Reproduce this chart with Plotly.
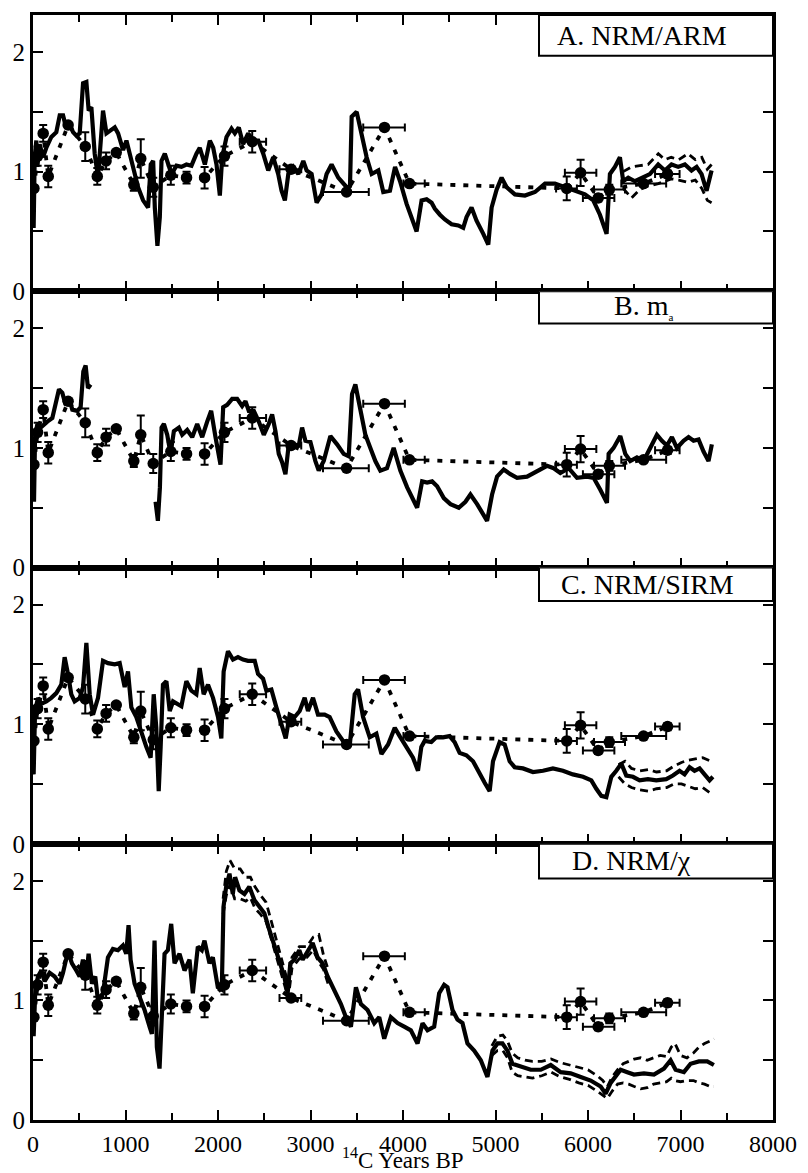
import plotly.graph_objects as go
from plotly.subplots import make_subplots

# ---------------------------------------------------------------
# Archaeomagnetic intensity data (shared by all four panels)
# ---------------------------------------------------------------
arch_age = [10, 50, 110, 165, 380, 565, 695, 790, 900, 1090, 1165, 1300, 1490,
            1660, 1855, 2070, 2370, 2790, 3390, 3800, 4070, 5770, 5920, 6110,
            6230, 6600, 6860]
arch_val = [0.86, 1.13, 1.32, 0.96, 1.39, 1.21, 0.96, 1.09, 1.16, 0.89, 1.11,
            0.87, 0.97, 0.95, 0.95, 1.13, 1.25, 1.02, 0.83, 1.37, 0.90, 0.86,
            0.99, 0.78, 0.85, 0.90, 0.98]
arch_yerr = [0, 0.08, 0.07, 0.09, 0, 0.12, 0.07, 0.07, 0, 0.05, 0.16, 0.08,
             0.08, 0.05, 0.09, 0.08, 0.09, 0, 0, 0, 0, 0.10, 0.11, 0.03, 0.04,
             0, 0.03]
arch_xerr_plus = [0, 0, 0, 0, 0, 0, 0, 0, 0, 0, 0, 0, 0, 0, 0, 0, 150, 110,
                  240, 220, 165, 110, 170, 175, 170, 245, 130]
arch_xerr_minus = [0, 0, 0, 0, 0, 0, 0, 0, 0, 0, 0, 0, 0, 0, 0, 0, 135, 125,
                   255, 230, 65, 115, 170, 165, 165, 240, 135]

# ---------------------------------------------------------------
# A. NRM/ARM
# ---------------------------------------------------------------
A_age = [0, 7, 18, 36, 47, 72, 108, 144, 198, 252,
         289, 325, 361, 397, 433, 469, 505, 541, 577, 602,
         631, 667, 703, 757, 794, 830, 884, 920, 974, 1010,
         1046, 1082, 1136, 1190, 1244, 1273, 1299, 1317, 1345, 1371,
         1389, 1425, 1461, 1497, 1551, 1605, 1659, 1713, 1767, 1803,
         1858, 1912, 1948, 1984, 2020, 2045, 2092, 2146, 2182, 2225,
         2272, 2326, 2380, 2435, 2489, 2543, 2597, 2651, 2687, 2723,
         2760, 2814, 2868, 2922, 2958, 3012, 3066, 3120, 3174, 3228,
         3300, 3391, 3427, 3445, 3499, 3553, 3607, 3661, 3733, 3787,
         3859, 3914, 3968, 4039, 4147, 4201, 4255, 4309, 4345, 4399,
         4453, 4525, 4597, 4651, 4687, 4741, 4795, 4868, 4922, 4958,
         5012, 5066, 5120, 5210, 5318, 5427, 5535, 5643, 5751, 5859,
         5967, 6057, 6129, 6201, 6237, 6291, 6345, 6381, 6435, 6507,
         6579, 6669, 6759, 6831, 6903, 6975, 7047, 7119, 7174, 7228,
         7282, 7336]
A_val = [0.87, 0.53, 1.12, 1.26, 1.04, 1.23, 1.12, 1.20, 1.29, 1.33,
         1.47, 1.47, 1.36, 1.40, 1.33, 1.30, 1.32, 1.74, 1.75, 1.51,
         1.54, 1.15, 0.95, 1.51, 1.32, 1.34, 1.37, 1.32, 1.18, 1.26,
         1.15, 1.04, 0.87, 0.76, 0.70, 1.06, 1.09, 0.70, 0.38, 0.62,
         1.09, 1.15, 1.06, 0.98, 1.05, 1.04, 1.06, 1.05, 1.15, 1.20,
         1.06, 1.26, 1.20, 1.06, 0.80, 1.12, 1.29, 1.36, 1.32, 1.37,
         1.23, 1.32, 1.26, 1.26, 1.15, 1.01, 1.12, 0.98, 0.84, 0.76,
         0.98, 1.04, 0.98, 1.09, 1.01, 0.98, 0.74, 0.81, 0.98, 1.06,
         0.95, 0.87, 0.88, 1.46, 1.50, 1.32, 1.12, 0.98, 1.01, 0.83,
         0.84, 1.04, 0.92, 0.73, 0.50, 0.76, 0.77, 0.74, 0.69, 0.64,
         0.60, 0.56, 0.55, 0.53, 0.62, 0.70, 0.59, 0.48, 0.39, 0.70,
         0.85, 0.95, 0.87, 0.81, 0.80, 0.83, 0.90, 0.90, 0.87, 0.84,
         0.81, 0.76, 0.64, 0.48, 0.98, 1.04, 1.12, 0.92, 0.95, 0.92,
         0.95, 0.98, 1.06, 1.01, 1.06, 1.04, 1.06, 1.01, 1.04, 0.98,
         0.84, 1.01]
A_env_age = [6380, 6470, 6560, 6650, 6760, 6830, 6900, 6980, 7080, 7160,
             7230, 7290, 7336]
A_env_hi = [1.00, 1.04, 1.05, 1.06, 1.15, 1.10, 1.12, 1.10, 1.15, 1.10,
            1.12, 1.02, 1.06]
A_env_lo = [0.86, 0.78, 0.85, 0.88, 0.90, 0.92, 0.94, 0.93, 0.91, 0.93,
            0.86, 0.76, 0.74]

# ---------------------------------------------------------------
# B. m_a  (record interrupted between ~620 and ~1320 yr BP)
# ---------------------------------------------------------------
B_age_early = [0, 11, 22, 47, 83, 119, 155, 209, 245, 281,
               317, 353, 389, 425, 479, 515, 544, 569, 594, 623]
B_val_early = [0.86, 0.55, 1.09, 1.20, 1.17, 1.20, 1.22, 1.25, 1.36, 1.49,
               1.46, 1.36, 1.42, 1.32, 1.31, 1.34, 1.64, 1.69, 1.50, 1.53]
B_age_late = [1325, 1350, 1372, 1390, 1415, 1451, 1487, 1523, 1577, 1613,
              1667, 1721, 1775, 1829, 1883, 1926, 1973, 2027, 2056, 2099,
              2153, 2207, 2261, 2297, 2333, 2387, 2441, 2495, 2549, 2585,
              2621, 2657, 2693, 2729, 2765, 2819, 2873, 2909, 2945, 2999,
              3053, 3089, 3143, 3215, 3287, 3359, 3413, 3449, 3485, 3539,
              3593, 3647, 3701, 3755, 3827, 3899, 3971, 4045, 4153, 4207,
              4261, 4315, 4369, 4441, 4513, 4603, 4675, 4729, 4801, 4909,
              4963, 5017, 5089, 5161, 5233, 5341, 5449, 5557, 5629, 5701,
              5791, 5881, 5989, 6061, 6133, 6205, 6223, 6277, 6349, 6403,
              6457, 6529, 6601, 6673, 6745, 6799, 6853, 6907, 6961, 7033,
              7087, 7141, 7195, 7249, 7303, 7339]
B_val_late = [0.55, 0.39, 0.67, 1.17, 1.20, 1.11, 0.95, 1.14, 1.17, 1.11,
              1.15, 1.09, 1.20, 1.09, 1.22, 1.31, 1.09, 0.86, 1.34, 1.36,
              1.41, 1.41, 1.35, 1.39, 1.31, 1.31, 1.22, 1.11, 1.20, 1.28,
              1.14, 0.95, 0.88, 0.78, 1.03, 1.03, 1.02, 1.17, 1.06, 1.05,
              0.89, 0.81, 0.89, 1.10, 1.03, 0.95, 0.93, 1.45, 1.53, 1.34,
              1.11, 1.00, 0.89, 0.81, 0.83, 1.00, 0.81, 0.67, 0.50, 0.72,
              0.71, 0.72, 0.68, 0.58, 0.53, 0.50, 0.55, 0.61, 0.53, 0.39,
              0.61, 0.76, 0.82, 0.78, 0.75, 0.76, 0.81, 0.85, 0.83, 0.79,
              0.83, 0.75, 0.76, 0.75, 0.65, 0.54, 0.95, 1.00, 1.10, 0.95,
              0.89, 0.92, 0.89, 1.00, 1.11, 1.06, 1.02, 1.09, 1.00, 1.06,
              1.09, 1.06, 1.07, 0.97, 0.89, 1.03]

# ---------------------------------------------------------------
# C. NRM/SIRM
# ---------------------------------------------------------------
C_age = [0, 7, 22, 54, 90, 144, 198, 252, 306, 342,
         378, 414, 450, 505, 541, 577, 613, 649, 703, 757,
         811, 883, 937, 991, 1027, 1063, 1117, 1171, 1225, 1272,
         1305, 1333, 1359, 1380, 1405, 1442, 1478, 1514, 1550, 1604,
         1658, 1712, 1766, 1802, 1845, 1892, 1946, 2000, 2036, 2061,
         2108, 2162, 2216, 2270, 2325, 2397, 2433, 2487, 2523, 2577,
         2631, 2685, 2732, 2775, 2829, 2883, 2937, 2973, 3027, 3081,
         3153, 3207, 3280, 3352, 3424, 3478, 3514, 3568, 3640, 3712,
         3767, 3839, 3911, 3964, 4036, 4108, 4162, 4198, 4234, 4306,
         4360, 4432, 4504, 4558, 4612, 4685, 4757, 4829, 4883, 4937,
         4973, 5045, 5099, 5153, 5207, 5297, 5405, 5513, 5621, 5729,
         5837, 5946, 6036, 6090, 6144, 6198, 6252, 6306, 6360, 6414,
         6486, 6558, 6648, 6738, 6846, 6918, 6990, 7044, 7098, 7152,
         7206, 7260, 7314, 7350]
C_val = [0.86, 0.58, 1.11, 1.22, 1.17, 1.19, 1.22, 1.26, 1.33, 1.56,
         1.42, 1.25, 1.19, 1.22, 1.31, 1.68, 1.25, 1.08, 1.22, 1.53,
         1.51, 1.50, 1.51, 1.31, 1.44, 1.14, 1.06, 0.92, 0.81, 0.72,
         1.25, 0.97, 0.44, 0.81, 1.33, 1.36, 1.11, 1.19, 1.17, 1.15,
         1.36, 1.28, 1.25, 1.47, 1.25, 1.33, 1.22, 1.06, 0.88, 1.44,
         1.61, 1.54, 1.56, 1.54, 1.53, 1.53, 1.42, 1.38, 1.28, 1.29,
         1.14, 1.00, 0.88, 1.08, 1.06, 1.11, 1.22, 1.11, 1.22, 1.08,
         1.08, 1.06, 0.94, 0.86, 0.82, 1.25, 1.29, 1.06, 0.89, 0.92,
         0.75, 0.83, 0.97, 0.90, 0.81, 0.72, 0.61, 0.81, 0.86, 0.85,
         0.89, 0.89, 0.90, 0.85, 0.76, 0.74, 0.69, 0.58, 0.51, 0.44,
         0.69, 0.85, 0.83, 0.69, 0.64, 0.63, 0.60, 0.61, 0.63, 0.61,
         0.58, 0.56, 0.53, 0.46, 0.40, 0.39, 0.56, 0.61, 0.67, 0.57,
         0.56, 0.53, 0.54, 0.53, 0.54, 0.57, 0.61, 0.58, 0.64, 0.61,
         0.63, 0.58, 0.53, 0.56]
C_env_age = [6330, 6400, 6470, 6560, 6650, 6740, 6850, 6930, 7010, 7090,
             7160, 7240, 7330]
C_env_hi = [0.66, 0.69, 0.63, 0.61, 0.62, 0.60, 0.61, 0.65, 0.68, 0.70,
            0.71, 0.72, 0.69]
C_env_lo = [0.56, 0.50, 0.47, 0.45, 0.44, 0.46, 0.47, 0.50, 0.50, 0.48,
            0.46, 0.47, 0.42]

# ---------------------------------------------------------------
# D. NRM/chi
# ---------------------------------------------------------------
D_age = [0, 7, 25, 54, 90, 126, 180, 234, 288, 324,
         378, 421, 468, 504, 540, 576, 601, 637, 673, 702,
         756, 810, 864, 918, 972, 1008, 1033, 1055, 1098, 1152,
         1206, 1260, 1285, 1314, 1339, 1368, 1396, 1422, 1458, 1494,
         1530, 1584, 1638, 1692, 1728, 1782, 1825, 1854, 1908, 1944,
         1998, 2041, 2059, 2088, 2124, 2160, 2185, 2232, 2286, 2339,
         2393, 2447, 2501, 2555, 2609, 2663, 2717, 2753, 2782, 2825,
         2879, 2915, 2969, 3023, 3077, 3131, 3185, 3257, 3329, 3383,
         3437, 3491, 3545, 3617, 3689, 3743, 3797, 3869, 3941, 4013,
         4085, 4157, 4211, 4265, 4337, 4391, 4445, 4481, 4535, 4589,
         4643, 4697, 4769, 4841, 4913, 4967, 5021, 5075, 5129, 5183,
         5273, 5381, 5489, 5597, 5705, 5813, 5921, 6029, 6137, 6191,
         6245, 6299, 6353, 6425, 6497, 6605, 6713, 6821, 6893, 6947,
         7037, 7109, 7199, 7289, 7361]
D_val = [0.86, 0.70, 1.09, 1.20, 1.25, 1.16, 1.23, 1.20, 1.14, 1.23,
         1.41, 1.31, 1.25, 1.20, 1.34, 1.20, 1.39, 1.14, 1.20, 1.00,
         1.06, 1.36, 1.43, 1.42, 1.46, 1.39, 1.63, 1.34, 1.14, 1.03,
         0.92, 0.78, 0.72, 1.50, 0.61, 0.43, 0.92, 1.39, 1.42, 1.64,
         1.31, 1.39, 1.25, 1.34, 1.06, 1.45, 1.42, 1.50, 1.31, 1.36,
         1.11, 1.09, 1.78, 1.95, 2.06, 1.89, 2.03, 1.92, 1.89, 1.95,
         1.84, 1.78, 1.73, 1.59, 1.45, 1.31, 1.20, 1.06, 1.31, 1.34,
         1.42, 1.34, 1.41, 1.48, 1.36, 1.31, 1.20, 1.09, 0.97, 0.86,
         0.78, 1.11, 0.97, 0.92, 0.81, 0.86, 0.68, 0.86, 0.81, 0.78,
         0.75, 0.64, 0.81, 0.75, 0.78, 1.06, 1.13, 1.11, 0.92, 0.84,
         0.81, 0.64, 0.58, 0.50, 0.36, 0.58, 0.64, 0.64, 0.58, 0.47,
         0.45, 0.42, 0.42, 0.46, 0.40, 0.39, 0.36, 0.33, 0.28, 0.22,
         0.31, 0.36, 0.42, 0.40, 0.38, 0.39, 0.38, 0.43, 0.50, 0.42,
         0.40, 0.47, 0.49, 0.49, 0.46]
D_env_age_early = [2055, 2090, 2130, 2180, 2240, 2300, 2350, 2400, 2460, 2520,
                   2570, 2620, 2670, 2720, 2760, 2800, 2880, 2960, 3030, 3090,
                   3140, 3190]
D_env_hi_early = [1.85, 2.08, 2.17, 2.10, 2.10, 2.03, 2.03, 1.95, 1.88, 1.82,
                  1.68, 1.53, 1.39, 1.25, 1.14, 1.36, 1.45, 1.45, 1.53, 1.55,
                  1.38, 1.26]
D_env_lo_early = [1.72, 1.88, 1.97, 1.85, 1.85, 1.83, 1.86, 1.77, 1.72, 1.66,
                  1.53, 1.39, 1.25, 1.13, 1.02, 1.27, 1.35, 1.36, 1.42, 1.32,
                  1.26, 1.14]
D_env_age_late = [4960, 5020, 5080, 5130, 5180, 5240, 5320, 5400, 5500, 5600,
                  5700, 5800, 5900, 6000, 6100, 6160, 6210, 6260, 6320, 6380,
                  6440, 6500, 6570, 6640, 6710, 6780, 6850, 6900, 6940, 7000,
                  7070, 7140, 7200, 7260, 7320, 7361]
D_env_hi_late = [0.62, 0.70, 0.71, 0.66, 0.56, 0.52, 0.50, 0.49, 0.49, 0.51,
                 0.48, 0.46, 0.44, 0.42, 0.37, 0.33, 0.28, 0.36, 0.42, 0.47,
                 0.49, 0.51, 0.52, 0.50, 0.52, 0.54, 0.53, 0.61, 0.64, 0.54,
                 0.52, 0.56, 0.61, 0.64, 0.66, 0.68]
D_env_lo_late = [0.54, 0.58, 0.58, 0.52, 0.40, 0.37, 0.36, 0.35, 0.37, 0.40,
                 0.36, 0.34, 0.31, 0.29, 0.24, 0.21, 0.18, 0.24, 0.30, 0.31,
                 0.30, 0.28, 0.26, 0.27, 0.30, 0.31, 0.32, 0.35, 0.33, 0.32,
                 0.33, 0.33, 0.31, 0.30, 0.28, 0.28]

# Panel titles and axis ticks
panel_titles = ["A. NRM/ARM",
                "B. m<sub><span style='font-size:11px'>a</span></sub>",
                "C. NRM/SIRM",
                "D. NRM/\u03c7"]
x_tick_values = [0, 1000, 2000, 3000, 4000, 5000, 6000, 7000, 8000]
y_tick_values = [0, 1, 2]

INK = "black"
SERIF = "Liberation Serif"
Y_MAX = 2.31

panels = [
    dict(curves=[(A_age, A_val)],
         envelopes=[(A_env_age, A_env_hi, A_env_lo)],
         box_bottom=1.97, label_x=6580, label_y=2.14),
    dict(curves=[(B_age_early, B_val_early), (B_age_late, B_val_late)],
         envelopes=[],
         box_bottom=2.04, label_x=6600, label_y=2.18),
    dict(curves=[(C_age, C_val)],
         envelopes=[(C_env_age, C_env_hi, C_env_lo)],
         box_bottom=2.03, label_x=6645, label_y=2.17),
    dict(curves=[(D_age, D_val)],
         envelopes=[(D_env_age_early, D_env_hi_early, D_env_lo_early),
                    (D_env_age_late, D_env_hi_late, D_env_lo_late)],
         box_bottom=2.02, label_x=6470, label_y=2.17),
]

fig = make_subplots(rows=4, cols=1, shared_xaxes=True, vertical_spacing=0)

for i, p in enumerate(panels):
    row = i + 1
    # dashed uncertainty envelope
    for ages, hi, lo in p["envelopes"]:
        for ys in (hi, lo):
            fig.add_trace(go.Scatter(x=ages, y=ys, mode="lines",
                                     line=dict(color=INK, width=2.8, dash="8px,5px"),
                                     hoverinfo="skip", showlegend=False),
                          row=row, col=1)
    # sediment record
    for ages, vals in p["curves"]:
        fig.add_trace(go.Scatter(x=ages, y=vals, mode="lines",
                                 line=dict(color=INK, width=4.2),
                                 showlegend=False),
                      row=row, col=1)
    # archaeomagnetic reference: dotted connector and points with error bars
    fig.add_trace(go.Scatter(x=arch_age, y=arch_val, mode="lines",
                             line=dict(color=INK, width=3.8, dash="5px,8px"),
                             hoverinfo="skip", showlegend=False),
                  row=row, col=1)
    fig.add_trace(go.Scatter(x=arch_age, y=arch_val, mode="markers",
                             marker=dict(size=11.5, color=INK),
                             error_x=dict(type="data", symmetric=False,
                                          array=arch_xerr_plus,
                                          arrayminus=arch_xerr_minus,
                                          color=INK, thickness=2, width=4),
                             error_y=dict(type="data", array=arch_yerr,
                                          color=INK, thickness=2, width=4),
                             showlegend=False),
                  row=row, col=1)

    xref = "x" if row == 1 else f"x{row}"
    yref = "y" if row == 1 else f"y{row}"
    fig.add_shape(type="rect", xref=xref, yref=yref,
                  x0=5470, x1=8000, y0=p["box_bottom"], y1=Y_MAX,
                  line=dict(color=INK, width=2), fillcolor="white", layer="above")
    fig.add_annotation(xref=xref, yref=yref, x=p["label_x"], y=p["label_y"],
                       text=panel_titles[i], showarrow=False,
                       xanchor="center", yanchor="middle",
                       font=dict(family=SERIF, size=28, color=INK))

    fig.update_yaxes(range=[0, Y_MAX], tickmode="array",
                     tickvals=y_tick_values,
                     ticks="inside", ticklen=10, tickwidth=2, tickcolor=INK,
                     minor=dict(dtick=0.5, tick0=0, ticks="inside", ticklen=10,
                                tickwidth=2, tickcolor=INK),
                     showline=True, linewidth=3, linecolor=INK, mirror="ticks",
                     showgrid=False, zeroline=False,
                     tickfont=dict(family=SERIF, size=25, color=INK),
                     row=row, col=1)
    fig.update_xaxes(range=[0, 8000], tickmode="array",
                     tickvals=x_tick_values,
                     ticktext=[str(v) for v in x_tick_values],
                     ticks="inside", ticklen=10, tickwidth=2, tickcolor=INK,
                     minor=dict(dtick=500, tick0=0, ticks="inside", ticklen=7,
                                tickwidth=2, tickcolor=INK),
                     showline=True, linewidth=3, linecolor=INK, mirror="ticks",
                     showgrid=False, zeroline=False,
                     tickfont=dict(family=SERIF, size=24, color=INK),
                     row=row, col=1)

fig.add_annotation(xref="paper", yref="paper", x=0.5, y=-0.0495,
                   text="<sup>14</sup>C Years BP", showarrow=False,
                   xanchor="center", yanchor="bottom",
                   font=dict(family=SERIF, size=23, color=INK))

fig.update_layout(width=808, height=1173,
                  margin=dict(l=33, r=35, t=15, b=53),
                  paper_bgcolor="white", plot_bgcolor="white",
                  showlegend=False)

fig.write_html("out.html")
